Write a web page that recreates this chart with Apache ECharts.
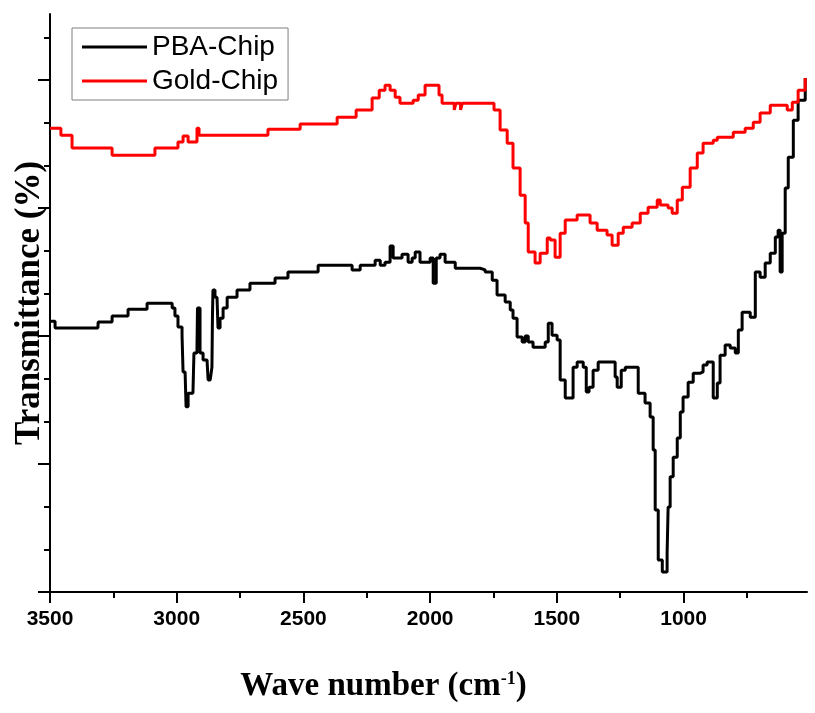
<!DOCTYPE html>
<html>
<head>
<meta charset="utf-8">
<script src="https://cdn.jsdelivr.net/npm/echarts@6/dist/echarts.min.js"></script>
<style>
html, body { margin: 0; padding: 0; background: #fff; }
#chart { width: 815px; height: 713px; }
</style>
</head>
<body>
<div id="chart"></div>
<script>
// wave number axis ticks
var majorX = [3500, 3000, 2500, 2000, 1500, 1000];
var minorX = [3250, 2750, 2250, 1750, 1250, 750];
var majorY = [0, 30, 60, 90, 120];
var minorY = [10, 20, 40, 50, 70, 80, 100, 110, 130];

// PBA-Chip spectrum
var pbaWave = [3500, 3480, 3311, 3310, 3255, 3192, 3117, 3034, 3018, 3007, 2995, 2979, 2975, 2967, 2963, 2955, 2936, 2932, 2920, 2918,
    2912, 2908, 2896, 2880, 2876, 2868, 2861, 2859, 2857, 2849, 2841, 2837, 2829, 2817, 2801, 2762, 2711, 2612, 2561, 2442,
    2324, 2308, 2284, 2276, 2217, 2197, 2178, 2158, 2146, 2126, 2111, 2087, 2071, 2059, 2040, 2000, 1988, 1976, 1961, 1941,
    1901, 1803, 1783, 1755, 1736, 1704, 1684, 1673, 1657, 1637, 1625, 1613, 1594, 1558, 1546, 1534, 1519, 1499, 1487, 1467,
    1448, 1436, 1420, 1408, 1396, 1384, 1373, 1357, 1337, 1282, 1270, 1262, 1246, 1230, 1199, 1179, 1152, 1132, 1120, 1112,
    1100, 1084, 1073, 1065, 1061, 1053, 1041, 1025, 1013, 1002, 982, 962, 934, 923, 907, 883, 867, 856, 836, 816,
    796, 784, 769, 749, 737, 717, 698, 678, 658, 638, 627, 619, 611, 599, 587, 567, 548, 520];
var pbaTrans = [63.5, 61.9, 61.9, 63.3, 64.7, 66.3, 67.7, 67.7, 66.6, 64.7, 62.1, 60.2, 51.6, 51.3, 43.4, 46.6, 46.6, 56.0, 57.2, 66.6,
    66.6, 56.0, 54.4, 53.9, 49.7, 49.7, 52.7, 64.4, 70.8, 69.1, 69.1, 61.9, 64.2, 66.6, 69.1, 70.8, 72.4, 73.6, 75.0, 76.6,
    76.6, 75.5, 75.5, 76.6, 77.8, 76.6, 77.3, 81.1, 78.3, 78.3, 79.2, 77.3, 78.3, 79.7, 77.3, 78.3, 72.4, 78.3, 79.2, 77.3,
    75.9, 75.5, 75.0, 73.1, 69.6, 68.0, 66.1, 64.2, 59.8, 58.6, 60.0, 58.6, 57.4, 57.4, 58.6, 63.0, 60.2, 59.1, 49.7, 45.5,
    45.5, 52.7, 53.9, 53.9, 52.7, 46.9, 48.0, 52.0, 53.9, 53.9, 50.4, 48.0, 52.0, 52.7, 52.7, 46.6, 44.3, 41.0, 33.3, 19.2,
    7.5, 4.7, 4.7, 9.1, 19.9, 27.0, 31.6, 36.1, 42.2, 45.7, 49.2, 51.3, 51.6, 53.2, 53.9, 45.5, 49.0, 55.5, 57.9, 57.2,
    56.0, 61.4, 65.6, 65.6, 64.4, 75.0, 73.8, 77.1, 79.4, 83.2, 84.8, 75.0, 84.1, 94.7, 101.9, 110.6, 115.3, 120.5];

// Gold-Chip spectrum
var goldWave = [3500, 3457, 3413, 3255, 3086, 2995, 2975, 2955, 2920, 2912, 2640, 2513, 2367, 2292, 2229, 2201, 2178, 2158, 2138, 2119,
    2067, 2047, 2020, 1984, 1965, 1953, 1905, 1898, 1880, 1873, 1748, 1724, 1696, 1673, 1645, 1625, 1613, 1586, 1566, 1538,
    1526, 1507, 1487, 1467, 1420, 1369, 1341, 1302, 1282, 1258, 1238, 1203, 1171, 1140, 1104, 1092, 1061, 1045, 1025, 1005,
    974, 946, 923, 883, 867, 804, 757, 725, 698, 658, 591, 571, 548, 520];
var goldTrans = [108.7, 107.1, 104.1, 102.4, 104.1, 105.5, 106.9, 105.5, 108.7, 107.1, 108.5, 109.7, 111.3, 113.0, 115.8, 117.6, 118.8, 117.6, 116.0, 114.6,
    115.3, 116.5, 118.8, 118.8, 116.5, 114.6, 113.0, 114.6, 113.0, 114.6, 113.0, 108.3, 105.2, 99.4, 93.0, 86.5, 79.7, 77.1, 79.4, 83.0,
    82.5, 78.5, 84.1, 87.2, 88.4, 86.5, 84.8, 83.7, 81.3, 84.1, 85.5, 86.5, 88.8, 90.2, 91.9, 90.7, 90.0, 88.8, 91.9, 94.9,
    99.4, 102.9, 105.2, 105.9, 106.6, 107.8, 108.7, 110.1, 112.3, 114.1, 113.0, 114.8, 117.6, 120.5];

function zip(xs, ys) {
    var out = [];
    for (var i = 0; i < xs.length; i++) {
        out.push([xs[i], ys[i]]);
    }
    return out;
}

var myChart = echarts.init(document.getElementById('chart'));

var grid = { left: 50, right: 8, top: 14, bottom: 121 };
var xMin = 513, xMax = 3500;
var yMin = 0, yMax = 135.5;
var axisColor = '#000';

var option = {
    backgroundColor: '#fff',
    animation: false,
    grid: [grid, grid],
    legend: {
        orient: 'vertical',
        left: 72,
        top: 28,
        padding: [5, 10, 5, 10],
        itemGap: 6,
        itemWidth: 65,
        itemHeight: 3,
        icon: 'rect',
        borderColor: '#7f7f7f',
        borderWidth: 1,
        backgroundColor: '#fff',
        textStyle: { fontFamily: 'Liberation Sans', fontSize: 28, color: '#000' },
        data: ['PBA-Chip', 'Gold-Chip']
    },
    xAxis: [
        {
            type: 'value', gridIndex: 0, min: xMin, max: xMax, inverse: true,
            axisLine: { onZero: false, lineStyle: { color: axisColor, width: 2 } },
            axisTick: { customValues: majorX, length: 11, lineStyle: { color: axisColor, width: 2 } },
            axisLabel: {
                customValues: majorX, margin: 17, color: '#000',
                fontFamily: 'Liberation Sans', fontWeight: 'bold', fontSize: 21,
                formatter: function (v) { return String(v); }
            },
            splitLine: { show: false },
            name: '{a|Wave number (cm}{s|-1}{a|)}',
            nameLocation: 'middle',
            nameGap: 78,
            nameTextStyle: {
                padding: [0, 90, 0, 0],
                rich: {
                    a: { fontFamily: 'Liberation Serif', fontWeight: 'bold', fontSize: 33, color: '#000' },
                    s: { fontFamily: 'Liberation Serif', fontWeight: 'bold', fontSize: 18, color: '#000', verticalAlign: 'top' }
                }
            }
        },
        {
            type: 'value', gridIndex: 1, min: xMin, max: xMax, inverse: true,
            axisLine: { show: false, onZero: false },
            axisTick: { customValues: minorX, length: 6, lineStyle: { color: axisColor, width: 2 } },
            axisLabel: { show: false },
            splitLine: { show: false }
        }
    ],
    yAxis: [
        {
            type: 'value', gridIndex: 0, min: yMin, max: yMax,
            axisLine: { show: true, onZero: false, lineStyle: { color: axisColor, width: 2 } },
            axisTick: { show: true, customValues: majorY, length: 12, lineStyle: { color: axisColor, width: 2 } },
            axisLabel: { show: false },
            splitLine: { show: false },
            name: 'Transmittance (%)',
            nameLocation: 'middle',
            nameRotate: 90,
            nameGap: 3,
            nameTextStyle: { fontFamily: 'Liberation Serif', fontWeight: 'bold', fontSize: 35, color: '#000' }
        },
        {
            type: 'value', gridIndex: 1, min: yMin, max: yMax,
            axisLine: { show: false, onZero: false },
            axisTick: { show: true, customValues: minorY, length: 6, lineStyle: { color: axisColor, width: 2 } },
            axisLabel: { show: false },
            splitLine: { show: false }
        }
    ],
    series: [
        {
            name: 'PBA-Chip',
            type: 'line',
            xAxisIndex: 0, yAxisIndex: 0,
            step: 'end',
            showSymbol: false,
            color: '#000',
            lineStyle: { color: '#000', width: 3 },
            data: zip(pbaWave, pbaTrans)
        },
        {
            name: 'Gold-Chip',
            type: 'line',
            xAxisIndex: 0, yAxisIndex: 0,
            step: 'end',
            showSymbol: false,
            color: '#ff0000',
            lineStyle: { color: '#ff0000', width: 3 },
            data: zip(goldWave, goldTrans)
        }
    ]
};

myChart.setOption(option);
</script>
</body>
</html>
